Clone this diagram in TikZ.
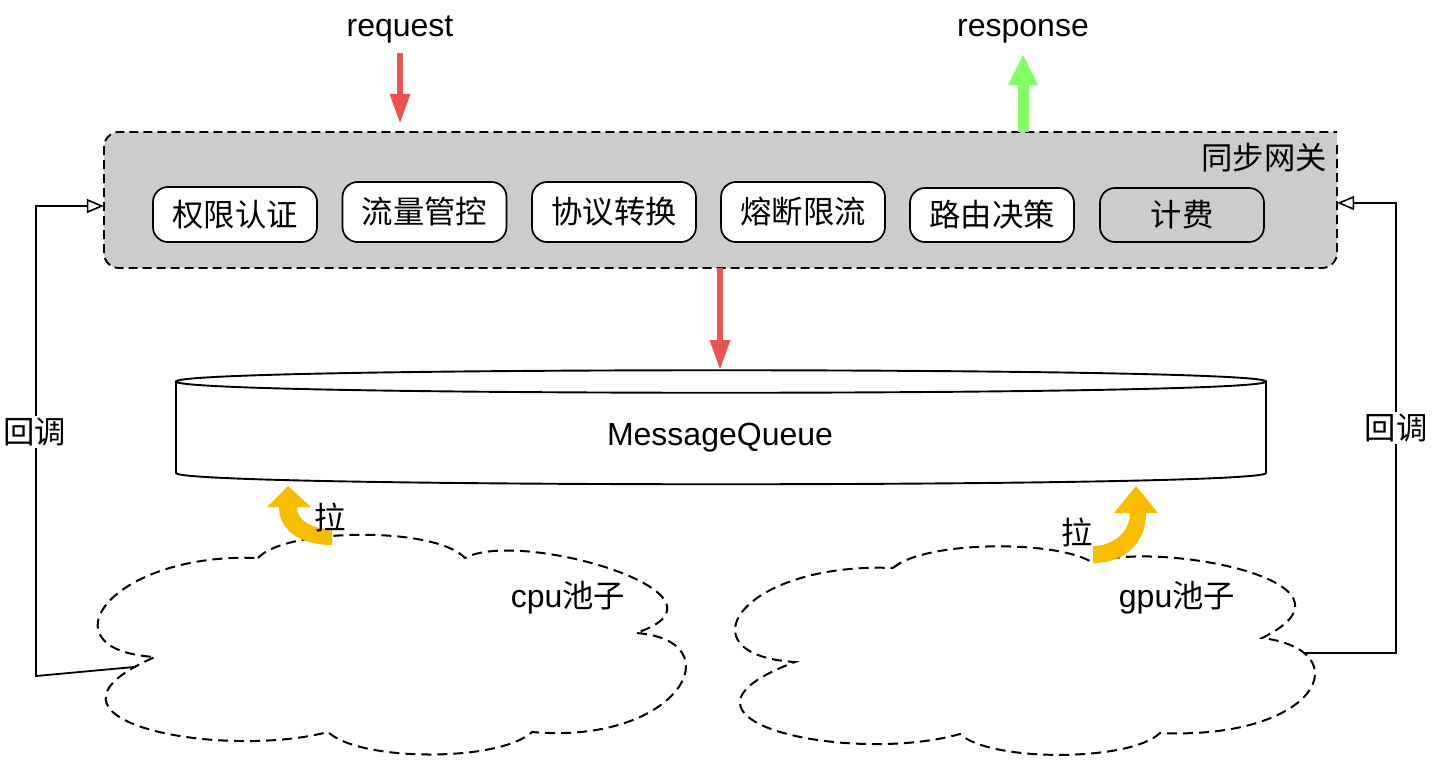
\documentclass[tikz,border=0pt]{standalone}
\usepackage{fontspec}
\setmainfont{Liberation Sans}
\newfontfamily\cjk[Scale=0.98]{Noto Sans CJK SC}
\usetikzlibrary{arrows.meta}
\definecolor{redA}{RGB}{234,84,80}
\definecolor{greenA}{RGB}{128,255,102}
\definecolor{yellowA}{RGB}{248,189,0}
\definecolor{gwgray}{RGB}{204,204,204}
\newcommand\fs{\fontsize{32}{38}\selectfont}
\begin{document}
\begin{tikzpicture}[x=1pt,y=-1pt,font=\fs,
  lat/.style={font=\fs, inner sep=0pt},
  cjkf/.style={font=\fs\cjk, inner sep=0pt},
  pill/.style={draw, line width=1.7pt, rounded corners=15pt, fill=white,
    minimum width=164pt, inner sep=0pt, font=\fs\cjk},
  dashedge/.style={draw=black, line width=1.9pt, dash pattern=on 9pt off 5pt},
  clouddash/.style={draw=black, line width=2pt, dash pattern=on 10pt off 6pt, fill=white},
  redarr/.style={draw=redA, line width=6pt, -{Triangle[width=21pt,length=29pt,line width=0pt]}},
  greenarr/.style={draw=greenA, line width=11pt, -{Triangle[width=30pt,length=30pt,line width=0pt]}},
  cbarr/.style={draw=black, line width=1.8pt, -{Triangle[open,fill=white,width=14pt,length=17pt,line width=1.6pt]}},
  pullarrow/.style={fill=yellowA},
  cbtext/.style={font=\fs\cjk, fill=white, inner sep=2pt}
]
\useasboundingbox (0,0) rectangle (1438,772);

% gateway
\node[fill=gwgray, rounded corners=15pt, minimum width=1233pt, minimum height=136pt, inner sep=0pt] (gw) at (720.5,200) {};
\fill[gwgray] (1320,132) rectangle (1337,147);
\draw[dashedge, rounded corners=15pt] (1337,145) -- (1337,268) -- (104,268) -- (104,132) -- (1337,132);
\node[cjkf, anchor=east] (gwlabel) at (1327,158) {同步网关};

% inner boxes
\node[pill, minimum height=55pt] (b1) at (235,214.5) {权限认证};
\node[pill, minimum height=60pt] (b2) at (424.5,212) {流量管控};
\node[pill, minimum height=60pt] (b3) at (614,212) {协议转换};
\node[pill, minimum height=60pt] (b4) at (803,212) {熔断限流};
\node[pill, minimum height=54pt] (b5) at (992,215) {路由决策};
\node[pill, minimum height=54pt, fill=gwgray] (b6) at (1182,215) {计费};

% request / response
\node[lat, anchor=base] (req) at (400,36) {request};
\node[lat, anchor=base] (resp) at (1023,36) {response};
\coordinate (reqtail) at (400,53);
\coordinate (resptip) at (1023,55);
\draw[redarr, shorten >=9pt] (reqtail) -- (reqtail |- gw.north);
\draw[greenarr] (resptip |- gw.north) -- (resptip);

% message queue cylinder
\draw[line width=1.9pt, fill=white] (176,381.5) -- (176,473) .. controls (176,488) and (1266,488) .. (1266,473) -- (1266,381.5);
\draw[line width=1.9pt, fill=white] (176,381.5) .. controls (176,366.5) and (1266,366.5) .. (1266,381.5) .. controls (1266,396.5) and (176,396.5) .. (176,381.5) -- cycle;
\node[lat, anchor=base] (mq) at (720,445) {MessageQueue};
\coordinate (mqtop) at (720,369);
\draw[redarr] (mqtop |- gw.south) -- (mqtop);

% clouds
\draw[clouddash] (258,558) .. controls (285,528) and (435,526) .. (465,558)
  .. controls (520,528) and (750,595) .. (636,633)
  .. controls (735,640) and (680,745) .. (532,732)
  .. controls (500,762) and (360,762) .. (328,732)
  .. controls (220,760) and (10,720) .. (155,657)
  .. controls (40,650) and (110,552) .. (258,558) -- cycle;
\draw[clouddash] (893,568) .. controls (925,540) and (1060,540) .. (1093,563)
  .. controls (1150,540) and (1380,580) .. (1262,638)
  .. controls (1360,650) and (1320,740) .. (1160,733)
  .. controls (1130,762) and (990,762) .. (960,734)
  .. controls (850,765) and (640,720) .. (795,662)
  .. controls (680,655) and (740,562) .. (893,568) -- cycle;
\node[font=\fs] (cpu) at (568,598) {cpu{\cjk 池子}};
\node[font=\fs] (gpu) at (1177,598) {gpu{\cjk 池子}};

% pull arrows
\fill[pullarrow] (332,545) .. controls (300,545) and (279,530) .. (279,507) -- (267,507) -- (288,486) -- (311,507) -- (297,507) .. controls (297,521) and (312,529) .. (332,529) -- cycle;
\fill[pullarrow] (1093,563) .. controls (1125,563) and (1146,543) .. (1146,513) -- (1158,513) -- (1136,486) -- (1114,513) -- (1130,513) .. controls (1130,532) and (1113,546) .. (1093,546) -- cycle;
\node[cjkf] (pullL) at (330,517) {拉};
\node[cjkf] (pullR) at (1077,532) {拉};

% callbacks
\coordinate (cbL) at (134,667);
\coordinate (cbLy) at (0,206);
\coordinate (cbR) at (1303,653);
\coordinate (cbRy) at (0,203);
\draw[cbarr] (cbL) -- (36,676) -- (36,206) -- (gw.west |- cbLy);
\draw[cbarr] (cbR) -- (1396,653) -- (1396,203) -- (gw.east |- cbRy);
\node[cbtext] (cbLlab) at (34.5,432) {回调};
\node[cbtext] (cbRlab) at (1396,428) {回调};
\end{tikzpicture}
\end{document}
